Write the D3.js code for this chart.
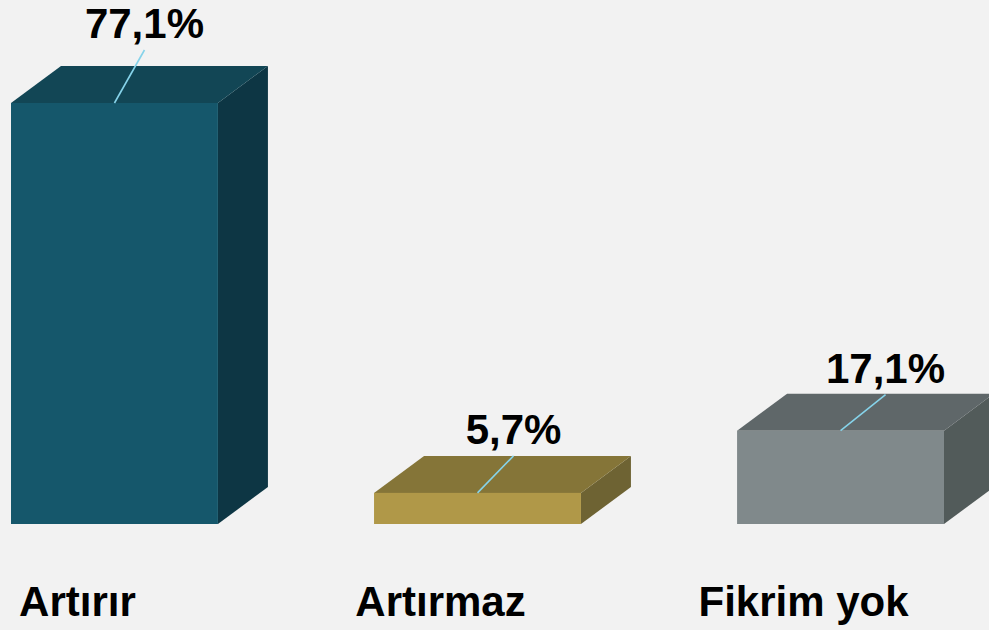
<!DOCTYPE html>
<html>
<head>
<meta charset="utf-8">
<script src="https://cdn.jsdelivr.net/npm/d3@7"></script>
<style>
  body { margin: 0; background: #f2f2f2; }
  svg { display: block; }
</style>
</head>
<body>
<script>
// chart data
var categories = ["Artırır", "Artırmaz", "Fikrim yok"];
var values = [77.1, 5.7, 17.1];
var valueLabels = ["77,1%", "5,7%", "17,1%"];

// colours per bar: front, top, side
var frontColors = ["#15576b", "#b09848", "#80898b"];
var topColors = ["#124655", "#857538", "#5f6769"];
var sideColors = ["#0d3644", "#6e6333", "#525b5a"];

var width = 989, height = 630;
var depthX = 50, depthY = -37;

var svg = d3.select("body").append("svg")
    .attr("width", width)
    .attr("height", height)
    .style("background", "#f2f2f2");

var x = d3.scaleBand()
    .domain(categories)
    .range([11, 944])
    .paddingInner(0.43)
    .paddingOuter(0);

var y = d3.scaleLinear()
    .domain([0, 77.1])
    .range([524, 103]);

// label nudges (layout only)
var labelShift = [[30, -28], [36, -12], [45, -11]];

var bars = svg.selectAll("g.bar")
    .data(categories)
    .enter()
    .append("g")
    .attr("class", "bar");

// side face
bars.append("path")
    .attr("d", function(d, i) {
        var x1 = x(d) + x.bandwidth(), y0 = y(0), y1 = y(values[i]);
        return "M" + x1 + "," + y1 +
            "L" + (x1 + depthX) + "," + (y1 + depthY) +
            "L" + (x1 + depthX) + "," + (y0 + depthY) +
            "L" + x1 + "," + y0 + "Z";
    })
    .style("fill", function(d, i) { return sideColors[i]; });

// top face
bars.append("path")
    .attr("d", function(d, i) {
        var x0 = x(d), x1 = x0 + x.bandwidth(), y1 = y(values[i]);
        return "M" + x0 + "," + y1 +
            "L" + (x0 + depthX) + "," + (y1 + depthY) +
            "L" + (x1 + depthX) + "," + (y1 + depthY) +
            "L" + x1 + "," + y1 + "Z";
    })
    .style("fill", function(d, i) { return topColors[i]; });

// front face
bars.append("rect")
    .attr("x", function(d) { return x(d); })
    .attr("y", function(d, i) { return y(values[i]); })
    .attr("width", x.bandwidth())
    .attr("height", function(d, i) { return y(0) - y(values[i]); })
    .style("fill", function(d, i) { return frontColors[i]; });

// leader lines
bars.append("line")
    .attr("x1", function(d) { return x(d) + x.bandwidth() / 2; })
    .attr("y1", function(d, i) { return y(values[i]); })
    .attr("x2", function(d, i) { return x(d) + x.bandwidth() / 2 + labelShift[i][0]; })
    .attr("y2", function(d, i) { return y(values[i]) + depthY + labelShift[i][1] + 12; })
    .style("stroke", "#86d3ea")
    .style("stroke-width", 1.6);

// value labels
bars.append("text")
    .text(function(d, i) { return valueLabels[i]; })
    .attr("x", function(d, i) { return x(d) + x.bandwidth() / 2 + labelShift[i][0]; })
    .attr("y", function(d, i) { return y(values[i]) + depthY + labelShift[i][1]; })
    .attr("text-anchor", "middle")
    .style("font-family", "'Liberation Sans', Arial, sans-serif")
    .style("font-weight", "bold")
    .style("font-size", "42px")
    .style("fill", "#000");

// category labels
svg.selectAll("text.cat")
    .data(categories)
    .enter()
    .append("text")
    .attr("class", "cat")
    .text(function(d) { return d; })
    .attr("x", function(d) { return x(d) + x.bandwidth() / 2 - 37; })
    .attr("y", 616)
    .attr("text-anchor", "middle")
    .style("font-family", "'Liberation Sans', Arial, sans-serif")
    .style("font-weight", "bold")
    .style("font-size", "42px")
    .style("fill", "#000");
</script>
</body>
</html>
